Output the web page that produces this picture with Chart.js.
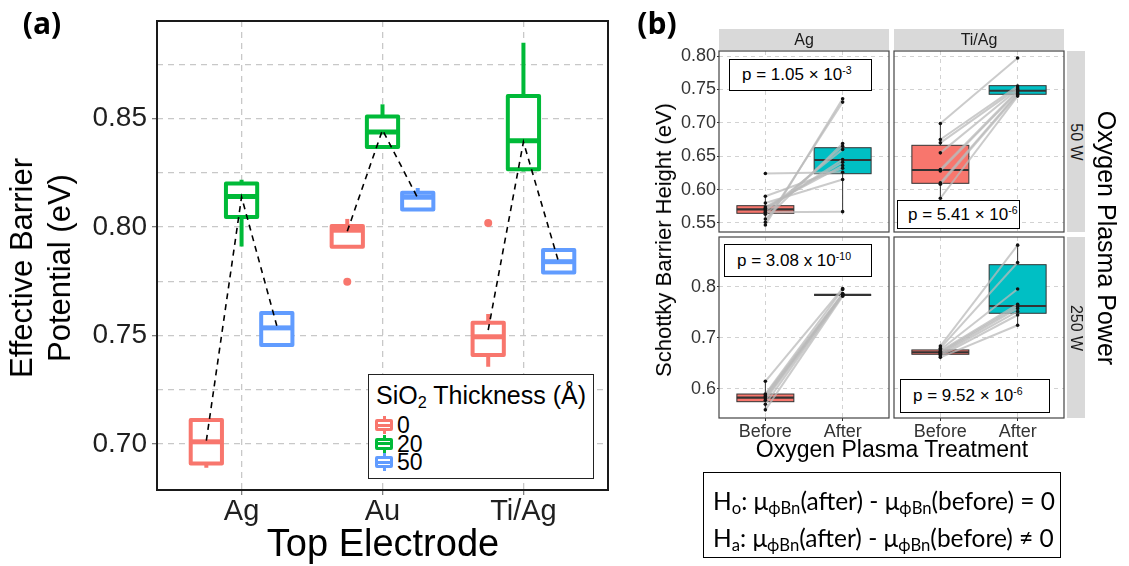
<!DOCTYPE html>
<html lang="en">
<head>
<meta charset="UTF-8">
<title>Effective barrier potential and Schottky barrier height</title>
<script src="https://cdn.jsdelivr.net/npm/chart.js"></script>
<style>
  body { margin: 0; background: #fff; font-family: "Liberation Sans", Arial, sans-serif; }
  #fig { position: relative; width: 1129px; height: 566px; overflow: hidden; background: #fff; }
  canvas { position: absolute; }
  .c { position: absolute; transform: translate(-50%, -50%); white-space: nowrap; color: #000; }
  .rl { transform: translate(-50%, -50%) rotate(-90deg); }
  .rr { transform: translate(-50%, -50%) rotate(90deg); }
  .panelTag { font-family: "Open Sans", sans-serif; font-weight: 700; font-size: 30px; }
  .strip { position: absolute; background: #d9d9d9; }
  .strip span { position: absolute; left: 50%; top: 50%; transform: translate(-50%, -50%); font-size: 16px; color: #1a1a1a; white-space: nowrap; }
  .strip.side span { transform: translate(-50%, -50%) rotate(90deg); }
  .pbox { position: absolute; border: 1.5px solid #000; background: #fff; box-sizing: border-box; font-size: 17px; white-space: nowrap; }
  .pbox span { position: absolute; top: 50%; transform: translateY(-50%); }
  sup { font-size: 0.62em; vertical-align: 0.6em; line-height: 0; }
  #legendA { position: absolute; left: 368px; top: 374px; width: 226px; height: 105px; border: 1.5px solid #222; box-sizing: border-box; background: #fff; }
  .legTitle { position: absolute; left: 7px; top: 20px; transform: translateY(-50%); font-size: 25px; white-space: nowrap; }
  .legTitle sub { font-size: 0.65em; vertical-align: -0.25em; line-height: 0; }
  .legRow { position: absolute; left: 0; width: 100%; height: 0; }
  .key { position: absolute; left: 6px; top: -9px; width: 18px; height: 18px; }
  .key i { position: absolute; left: 7.5px; top: 0; width: 3px; height: 18px; background: var(--c); }
  .key b { position: absolute; left: 0; top: 3px; width: 12px; height: 6px; border: 3px solid var(--c); background: #fff; border-radius: 2px; }
  .key b::after { content: ''; position: absolute; left: 0; right: 0; top: 1.5px; height: 3px; background: var(--c); }
  .legTxt { position: absolute; left: 28px; top: 0; transform: translateY(-50%); font-size: 23px; line-height: 1; }
  #hyp { position: absolute; left: 703px; top: 472px; width: 358px; height: 86px; border: 1.5px solid #000; box-sizing: border-box; font-family: Lato, sans-serif; font-size: 24.5px; }
  #hyp div { position: absolute; left: 9px; transform: translateY(-50%); white-space: nowrap; }
  #hyp sub { font-size: 0.68em; vertical-align: -0.3em; line-height: 0; }
</style>
</head>
<body>
<div id="fig">
  <canvas id="chartA" width="625" height="566" style="left:0;top:0"></canvas>
  <canvas id="fTL" width="240" height="200" style="left:660px;top:40px"></canvas>
  <canvas id="fTR" width="190" height="200" style="left:884px;top:40px"></canvas>
  <canvas id="fBL" width="240" height="225" style="left:660px;top:226px"></canvas>
  <canvas id="fBR" width="190" height="225" style="left:884px;top:226px"></canvas>

  <div class="c panelTag" style="left:42px;top:22px">(a)</div>
  <div class="c rl" style="left:41px;top:268px;font-size:31px;line-height:38px;text-align:center">Effective Barrier<br>Potential (eV)</div>
  <div class="c" style="left:383px;top:543px;font-size:38px">Top Electrode</div>
  <div id="legendA">
    <div class="legTitle">SiO<sub>2</sub> Thickness (Å)</div>
  </div>

  <div class="c panelTag" style="left:657px;top:22px">(b)</div>
  <div class="strip" style="left:719px;top:29px;width:170px;height:21px"><span>Ag</span></div>
  <div class="strip" style="left:894px;top:29px;width:170px;height:21px"><span>Ti/Ag</span></div>
  <div class="strip side" style="left:1067px;top:51px;width:18px;height:181px"><span>50 W</span></div>
  <div class="strip side" style="left:1067px;top:237px;width:18px;height:181px"><span>250 W</span></div>
  <div class="c rl" style="left:664px;top:240px;font-size:22px">Schottky Barrier Height (eV)</div>
  <div class="c rr" style="left:1106px;top:238px;font-size:25px">Oxygen Plasma Power</div>
  <div class="c" style="left:892px;top:449px;font-size:23px">Oxygen Plasma Treatment</div>

  <div class="pbox" style="left:729px;top:59px;width:143px;height:32px"><span style="left:12px">p = 1.05 × 10<sup>-3</sup></span></div>
  <div class="pbox" style="left:897px;top:200px;width:123px;height:29px"><span style="left:10px">p = 5.41 × 10<sup>-6</sup></span></div>
  <div class="pbox" style="left:724px;top:244px;width:148px;height:33px"><span style="left:12px">p = 3.08 x 10<sup>-10</sup></span></div>
  <div class="pbox" style="left:900px;top:379px;width:150px;height:34px"><span style="left:12px">p = 9.52 × 10<sup>-6</sup></span></div>

  <div id="hyp">
    <div style="top:27px">H<sub>o</sub>: μ<sub>ϕBn</sub>(after) - μ<sub>ϕBn</sub>(before) = 0</div>
    <div style="top:64px">H<sub>a</sub>: μ<sub>ϕBn</sub>(after) - μ<sub>ϕBn</sub>(before) ≠ 0</div>
  </div>
</div>

<script>
const FONT = '"Liberation Sans", Arial, sans-serif';

// ---- panel (a): effective barrier potential by top electrode and SiO2 thickness
const electrodes = ['Ag', 'Au', 'Ti/Ag'];
const thicknessLevels = ['0', '20', '50'];
const yTicksA = [0.70, 0.75, 0.80, 0.85];
const yMinorA = [0.725, 0.775, 0.825, 0.875];
// [min, q1, median, q3, max] for each electrode
const box0 = [[0.689, 0.691, 0.701, 0.711, 0.712], [0.7909, 0.7909, 0.7985, 0.8005, 0.8037], [0.7356, 0.741, 0.7494, 0.7559, 0.7599]];
const box20 = [[0.791, 0.8046, 0.814, 0.820, 0.8217], [0.8368, 0.8368, 0.8437, 0.8509, 0.8565], [0.8255, 0.8266, 0.8397, 0.8604, 0.8849]];
const box50 = [[0.7447, 0.7456, 0.7535, 0.7604, 0.7610], [0.8080, 0.8081, 0.8137, 0.8158, 0.8180], [0.7785, 0.7790, 0.7840, 0.7894, 0.7898]];
const outlierElectrode0 = [1, 2];
const outlier0 = [0.7747, 0.8018];
const mean0 = [0.7015, 0.798, 0.7525];
const mean20 = [0.8138, 0.8447, 0.8392];
const mean50 = [0.7545, 0.8133, 0.7838];

// ---- panel (b): Schottky barrier height before / after oxygen plasma
const treatment = ['Before', 'After'];
const yTicksTop = [0.55, 0.60, 0.65, 0.70, 0.75, 0.80];
const yTicksBottom = [0.6, 0.7, 0.8];
const agBefore50 = [0.547, 0.551, 0.556, 0.563, 0.566, 0.568, 0.570, 0.572, 0.574, 0.580, 0.590, 0.624];
const agAfter50 = [0.736, 0.731, 0.669, 0.665, 0.567, 0.660, 0.645, 0.641, 0.636, 0.615, 0.632, 0.626];
const agBoxBefore50 = [0.550, 0.5645, 0.5705, 0.5759, 0.592];
const agBoxAfter50 = [0.567, 0.6238, 0.6443, 0.6627, 0.669];
const tiBefore50 = [0.699, 0.675, 0.670, 0.655, 0.630, 0.628, 0.610, 0.608, 0.587];
const tiAfter50 = [0.797, 0.755, 0.752, 0.750, 0.748, 0.746, 0.744, 0.742, 0.740];
const tiBoxBefore50 = [0.587, 0.6094, 0.6293, 0.6663, 0.6992];
const tiBoxAfter50 = [0.740, 0.7427, 0.748, 0.7556, 0.757];
const agBefore250 = [0.559, 0.570, 0.578, 0.582, 0.585, 0.588, 0.590, 0.615];
const agAfter250 = [0.782, 0.784, 0.785, 0.785, 0.786, 0.787, 0.795, 0.797];
const agBoxBefore250 = [0.559, 0.575, 0.583, 0.590, 0.6143];
const agBoxAfter250 = [0.782, 0.7843, 0.7843, 0.7843, 0.787];
const tiBefore250 = [0.662, 0.665, 0.668, 0.670, 0.672, 0.674, 0.677, 0.680, 0.684];
const tiAfter250 = [0.725, 0.745, 0.752, 0.758, 0.762, 0.766, 0.796, 0.848, 0.882];
const tiBoxBefore250 = [0.662, 0.668, 0.672, 0.6765, 0.684];
const tiBoxAfter250 = [0.724, 0.7484, 0.7627, 0.8437, 0.8824];

const colorsA = ['#F8766D', '#00BA38', '#619CFF'];
const colorsB = ['#F8766D', '#00BFC4'];
const dodge = [-0.25, 0, 0.25];

// draws boxplots from [min,q1,med,q3,max] through the chart scales
function makeBoxPlugin(items, st) {
  return {
    id: 'boxes',
    beforeDatasetsDraw(chart) {
      const { ctx, scales: { x, y } } = chart;
      ctx.save();
      ctx.lineJoin = st.join;
      items.forEach(b => {
        const [lo, q1, med, q3, hi] = b.stats.map(v => y.getPixelForValue(v));
        const cx = x.getPixelForValue(b.x);
        const half = x.getPixelForValue(b.x + b.w / 2) - cx - st.lw / 2;
        ctx.strokeStyle = st.line || b.color;
        ctx.lineWidth = st.lw;
        ctx.beginPath();
        ctx.moveTo(cx, q3); ctx.lineTo(cx, hi);
        ctx.moveTo(cx, q1); ctx.lineTo(cx, lo);
        ctx.stroke();
        ctx.fillStyle = st.fill || b.color;
        ctx.fillRect(cx - half, q3, half * 2, q1 - q3);
        ctx.strokeRect(cx - half, q3, half * 2, q1 - q3);
        ctx.lineWidth = st.medLw;
        ctx.beginPath();
        ctx.moveTo(cx - half, med); ctx.lineTo(cx + half, med);
        ctx.stroke();
      });
      ctx.restore();
    }
  };
}

function frame(color, lw) {
  return {
    id: 'frame',
    afterDraw(chart) {
      const { ctx, chartArea: a } = chart;
      ctx.save();
      ctx.strokeStyle = color;
      ctx.lineWidth = lw;
      ctx.strokeRect(a.left, a.top, a.right - a.left, a.bottom - a.top);
      ctx.restore();
    }
  };
}

// ---------- panel (a)
const boxesA = [box0, box20, box50];
const meansA = [mean0, mean20, mean50];
const itemsA = [];
boxesA.forEach((grp, g) => grp.forEach((s, i) => itemsA.push({ x: i + dodge[g], w: 0.25, stats: s, color: colorsA[g] })));

const datasetsA = [{
  data: outlier0.map((v, k) => ({ x: outlierElectrode0[k] + dodge[0], y: v })),
  pointRadius: 4, backgroundColor: colorsA[0], borderWidth: 0
}];
electrodes.forEach((e, i) => datasetsA.push({
  data: meansA.map((m, g) => ({ x: i + dodge[g], y: m[i] })),
  showLine: true, borderColor: '#000', borderWidth: 1.6, borderDash: [6, 5], pointRadius: 0
}));

new Chart(document.getElementById('chartA'), {
  type: 'scatter',
  data: { datasets: datasetsA },
  options: {
    responsive: false, animation: false, events: [],
    layout: { padding: { top: 21, right: 17, bottom: 0, left: 0 } },
    plugins: { legend: { display: false }, tooltip: { enabled: false } },
    scales: {
      x: {
        type: 'linear', min: -0.6, max: 2.6,
        afterBuildTicks: s => { s.ticks = electrodes.map((e, i) => ({ value: i })); },
        afterFit: s => { s.height = 76; s.paddingLeft = 0; s.paddingRight = 0; },
        ticks: { callback: v => electrodes[v], font: { size: 29, family: FONT }, color: '#1f1f1f', padding: 0, maxRotation: 0, autoSkip: false },
        grid: { color: '#c8c8c8', lineWidth: 1.3, tickLength: 5, tickColor: '#808080' },
        border: { display: false, dash: [6, 5] }
      },
      y: {
        min: 0.6788, max: 0.8949,
        afterBuildTicks: s => { s.ticks = yTicksA.concat(yMinorA).map(v => ({ value: v })); },
        afterFit: s => { s.width = 157; s.paddingTop = 0; s.paddingBottom = 0; },
        ticks: { callback: v => yTicksA.includes(v) ? v.toFixed(2) : '', font: { size: 28, family: FONT }, color: '#1f1f1f', padding: 5, autoSkip: false },
        grid: {
          color: '#c8c8c8', lineWidth: 1.3, tickLength: 5,
          tickColor: c => (c.tick && yTicksA.includes(c.tick.value)) ? '#808080' : 'rgba(0,0,0,0)'
        },
        border: { display: false, dash: [6, 5] }
      }
    }
  },
  plugins: [makeBoxPlugin(itemsA, { lw: 4, medLw: 5, fill: '#fff', line: null, join: 'round' }), frame('#1a1a1a', 2)]
});

// legend rows
const legend = document.getElementById('legendA');
thicknessLevels.forEach((t, g) => {
  const row = document.createElement('div');
  row.className = 'legRow';
  row.style.top = (50 + g * 18.5) + 'px';
  row.innerHTML = '<span class="key" style="--c:' + colorsA[g] + '"><i></i><b></b></span><span class="legTxt">' + t + '</span>';
  legend.appendChild(row);
});

// ---------- panel (b) facets
function facet(id, o) {
  const datasets = [{
    data: o.before.map(v => ({ x: 0, y: v })).concat(o.after.map(v => ({ x: 1, y: v }))),
    pointRadius: 1.8, backgroundColor: '#111', borderWidth: 0
  }];
  o.before.forEach((b, k) => datasets.push({
    data: [{ x: 0, y: b }, { x: 1, y: o.after[k] }],
    showLine: true, borderColor: 'rgba(185,185,185,0.75)', borderWidth: 2, pointRadius: 0
  }));
  const items = [
    { x: 0, w: 0.75, stats: o.boxB, color: colorsB[0] },
    { x: 1, w: 0.75, stats: o.boxA, color: colorsB[1] }
  ];
  new Chart(document.getElementById(id), {
    type: 'scatter',
    data: { datasets },
    options: {
      responsive: false, animation: false, events: [],
      layout: { padding: o.pad },
      plugins: { legend: { display: false }, tooltip: { enabled: false } },
      scales: {
        x: {
          type: 'linear', min: -0.6, max: 1.6,
          afterBuildTicks: s => { s.ticks = treatment.map((t, i) => ({ value: i })); },
          afterFit: s => { s.height = o.showX ? 24 : 0; s.paddingLeft = 0; s.paddingRight = 0; },
          ticks: { display: o.showX, callback: v => treatment[v], font: { size: 18, family: FONT, lineHeight: 1 }, color: '#333', padding: 2, maxRotation: 0, autoSkip: false },
          grid: { color: '#d2d2d2', lineWidth: 1, drawTicks: o.showX, tickLength: 3, tickColor: '#333' },
          border: { display: false, dash: [4, 4] }
        },
        y: {
          min: o.yMin, max: o.yMax,
          afterBuildTicks: s => { s.ticks = o.yTicks.map(v => ({ value: v })); },
          afterFit: s => { s.width = o.showY ? 59 : 0; s.paddingTop = 0; s.paddingBottom = 0; },
          ticks: { display: o.showY, callback: v => v.toFixed(o.dec), font: { size: 18, family: FONT }, color: '#333', padding: 1, autoSkip: false },
          grid: { color: '#d2d2d2', lineWidth: 1, drawTicks: o.showY, tickLength: 2, tickColor: '#333' },
          border: { display: false, dash: [4, 4] }
        }
      }
    },
    plugins: [makeBoxPlugin(items, { lw: 1, medLw: 2.2, fill: null, line: '#333', join: 'miter' }), frame('#444', 1.2)]
  });
}

facet('fTL', { before: agBefore50, after: agAfter50, boxB: agBoxBefore50, boxA: agBoxAfter50,
  yMin: 0.5365, yMax: 0.8075, yTicks: yTicksTop, dec: 2, showY: true, showX: false,
  pad: { left: 0, top: 11, right: 11, bottom: 8 } });
facet('fTR', { before: tiBefore50, after: tiAfter50, boxB: tiBoxBefore50, boxA: tiBoxAfter50,
  yMin: 0.5365, yMax: 0.8075, yTicks: yTicksTop, dec: 2, showY: false, showX: false,
  pad: { left: 10, top: 11, right: 10, bottom: 8 } });
facet('fBL', { before: agBefore250, after: agAfter250, boxB: agBoxBefore250, boxA: agBoxAfter250,
  yMin: 0.543, yMax: 0.898, yTicks: yTicksBottom, dec: 1, showY: true, showX: true,
  pad: { left: 0, top: 11, right: 11, bottom: 9 } });
facet('fBR', { before: tiBefore250, after: tiAfter250, boxB: tiBoxBefore250, boxA: tiBoxAfter250,
  yMin: 0.543, yMax: 0.898, yTicks: yTicksBottom, dec: 1, showY: false, showX: true,
  pad: { left: 10, top: 11, right: 10, bottom: 9 } });
</script>
</body>
</html>
